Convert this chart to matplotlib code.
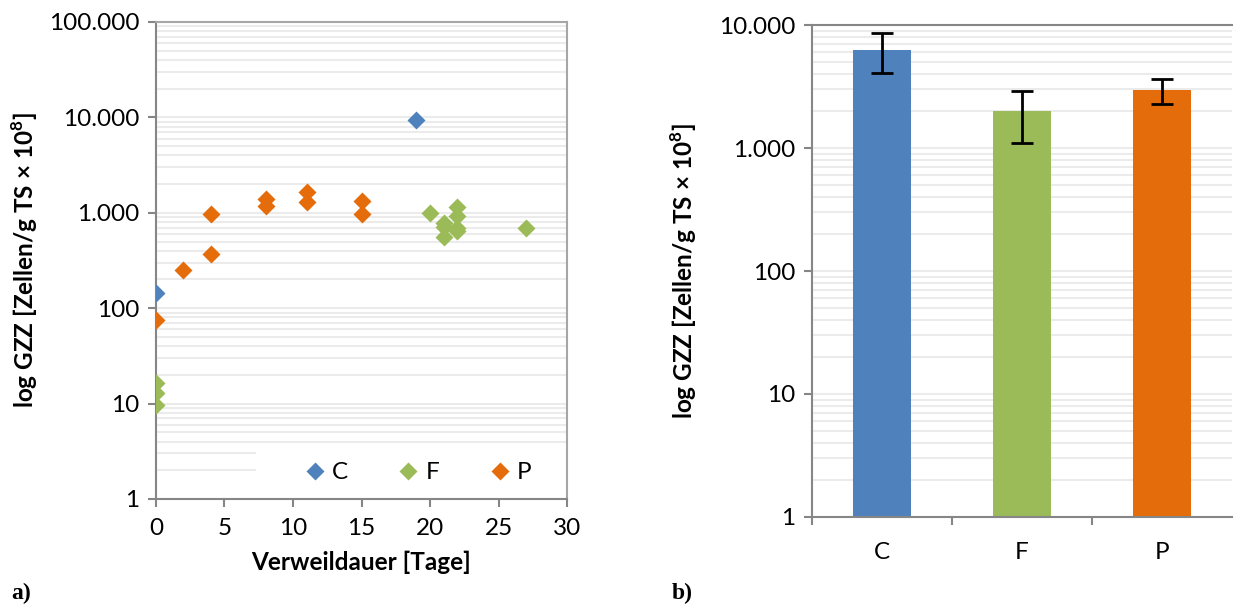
import numpy as np
import matplotlib.pyplot as plt
from matplotlib.patches import Rectangle
from matplotlib.ticker import FixedLocator, FuncFormatter, NullFormatter

plt.rcParams['font.family'] = ['Lato', 'DejaVu Sans']
plt.rcParams['mathtext.fontset'] = 'custom'
plt.rcParams['mathtext.rm'] = 'Lato'
plt.rcParams['mathtext.bf'] = 'Lato:bold'

# a) single samples over residence time
c_days = [0, 19]
c_vals = [143, 9500]
f_days = [0, 0, 0, 20, 21, 21, 21, 22, 22, 22, 22, 27]
f_vals = [16.5, 13, 9.7, 990, 790, 710, 560, 1140, 920, 700, 640, 695]
p_days = [0, 2, 4, 4, 8, 8, 11, 11, 15, 15]
p_vals = [76, 250, 370, 980, 1170, 1380, 1290, 1660, 1340, 980]

# b) mean per group with error
groups = ['C', 'F', 'P']
means = [6300, 2000, 2950]
errs = [2250, 900, 680]

blue = '#4F81BD'
green = '#9BBB59'
orange = '#E46C0A'
spine_col = '#868686'
grid_col = '#EBEBEB'
fs = 17.5


def thousands(v, pos):
    return f'{v:,.0f}'.replace(',', '.')


def style_log_axis(ax, ymin, ymax):
    ax.set_yscale('log')
    ax.set_ylim(ymin, ymax)
    decades = [10.0**k for k in range(int(np.log10(ymin)), int(np.log10(ymax)) + 1)]
    minors = [d * m for d in decades[:-1] for m in range(2, 10)]
    ax.yaxis.set_major_locator(FixedLocator(decades))
    ax.yaxis.set_minor_locator(FixedLocator(minors))
    ax.yaxis.set_major_formatter(FuncFormatter(thousands))
    ax.yaxis.set_minor_formatter(NullFormatter())
    ax.grid(True, which='both', axis='y', color=grid_col, lw=1.5, zorder=0)
    ax.set_axisbelow(True)
    for s in ax.spines.values():
        s.set_color(spine_col)
        s.set_linewidth(1.5)
    ax.tick_params(axis='y', which='major', direction='out', length=6, width=1.5,
                   color=spine_col, labelsize=fs, pad=6)
    ax.tick_params(axis='y', which='minor', length=0)


fig = plt.figure(figsize=(12.37, 6.06), dpi=100)

# left panel
ax1 = fig.add_axes([0.1261, 0.1766, 0.3323, 0.7871])
style_log_axis(ax1, 1, 100000)
ax1.plot(c_days, c_vals, 'D', color=blue, ms=9.5, mec='none', label='C', zorder=3)
ax1.plot(f_days, f_vals, 'D', color=green, ms=9.5, mec='none', label='F', zorder=3)
ax1.plot(p_days, p_vals, 'D', color=orange, ms=9.5, mec='none', label='P', zorder=3)
ax1.set_xlim(0, 30)
ax1.set_xticks(range(0, 31, 5))
ax1.tick_params(axis='x', direction='out', length=6, width=1.5, color=spine_col,
                labelsize=fs, pad=8)
for sp in ['top', 'right']:
    ax1.spines[sp].set_color('#A6A6A6')
ax1.set_xlabel('Verweildauer [Tage]', fontsize=fs, fontweight='bold', labelpad=8)
ax1.set_ylabel(r'log GZZ [Zellen/g TS × 10$^{\mathbf{8}}$]', fontsize=fs,
               fontweight='bold', labelpad=6)
# white legend area that hides the grid lines, like the Excel legend box
ax1.add_patch(Rectangle((0.243, 0.004), 0.755, 0.105, transform=ax1.transAxes,
                        facecolor='white', edgecolor='none', zorder=1.5))
leg = ax1.legend(loc='center', ncol=3, fontsize=fs, frameon=False,
                 bbox_to_anchor=(0.635, 0.0545), borderaxespad=0.0,
                 handletextpad=0.2, columnspacing=2.0, handlelength=1.0)
leg.set_zorder(2)

# right panel
ax2 = fig.add_axes([0.6564, 0.1469, 0.3396, 0.8118])
style_log_axis(ax2, 1, 10000)
x = np.arange(len(groups))
ax2.bar(x, means, width=0.41, color=[blue, green, orange], zorder=2)
ax2.errorbar(x, means, yerr=errs, fmt='none', ecolor='black', elinewidth=2,
             capsize=8, capthick=2, zorder=3)
ax2.set_xlim(-0.5, 2.5)
ax2.set_xticks(x)
ax2.set_xticklabels(groups)
ax2.set_xticks([-0.5, 0.5, 1.5], minor=True)
ax2.tick_params(axis='x', which='major', length=0, labelsize=fs, pad=18)
ax2.tick_params(axis='x', which='minor', direction='out', length=6, width=1.5,
                color=spine_col)
ax2.spines['right'].set_visible(False)
ax2.set_ylabel(r'log GZZ [Zellen/g TS × 10$^{\mathbf{8}}$]', fontsize=fs,
               fontweight='bold', labelpad=14)

fig.text(0.009, 0.012, 'a)', fontsize=17, fontweight='bold', family='Liberation Serif')
fig.text(0.543, 0.012, 'b)', fontsize=17, fontweight='bold', family='Liberation Serif')

fig.savefig('out.png', dpi=100)
